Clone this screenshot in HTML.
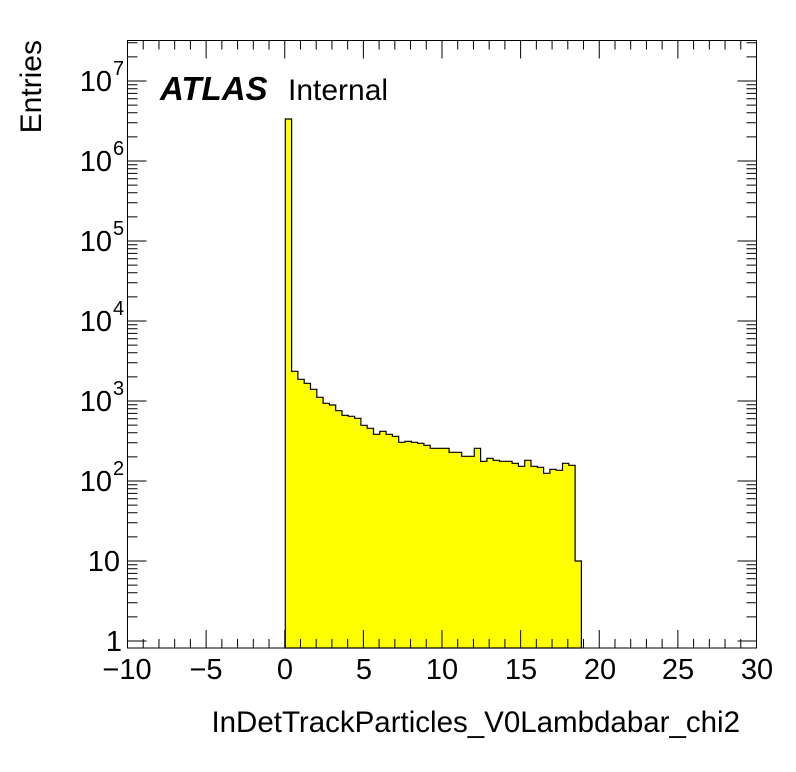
<!DOCTYPE html>
<html><head><meta charset="utf-8"><style>
html,body{margin:0;padding:0;background:#fff;}
svg{display:block;font-family:"Liberation Sans",sans-serif;}
</style></head><body>
<svg id="s" width="796" height="772" xmlns="http://www.w3.org/2000/svg">
<rect width="796" height="772" fill="#fff"/>
<g id="hist"></g>
<g id="ticks" stroke="#000" stroke-width="1" fill="none"></g>
<rect x="127.5" y="40.5" width="629" height="607.5" fill="none" stroke="#000" stroke-width="1"/>
<g font-size="29" text-anchor="middle" fill="#000">
<text x="127" y="679">−10</text>
<text x="206" y="679">−5</text>
<text x="285" y="679">0</text>
<text x="364" y="679">5</text>
<text x="442" y="679">10</text>
<text x="521" y="679">15</text>
<text x="600" y="679">20</text>
<text x="678" y="679">25</text>
<text x="757" y="679">30</text>
</g>
<g font-size="29" text-anchor="end" fill="#000">
<text x="122" y="651">1</text>
<text x="120" y="571">10</text>
<text x="112" y="491">10</text><text x="113" y="475" font-size="20" text-anchor="start">2</text>
<text x="112" y="411">10</text><text x="113" y="395" font-size="20" text-anchor="start">3</text>
<text x="112" y="331">10</text><text x="113" y="315" font-size="20" text-anchor="start">4</text>
<text x="112" y="251">10</text><text x="113" y="235" font-size="20" text-anchor="start">5</text>
<text x="112" y="171">10</text><text x="113" y="155" font-size="20" text-anchor="start">6</text>
<text x="112" y="91">10</text><text x="113" y="75" font-size="20" text-anchor="start">7</text>
</g>
<text x="740" y="732" font-size="29.5" text-anchor="end">InDetTrackParticles_V0Lambdabar_chi2</text>
<text transform="translate(41,40) rotate(-90)" font-size="30" text-anchor="end">Entries</text>
<text x="160" y="100" font-size="33" font-weight="bold" font-style="italic">ATLAS</text>
<text x="288" y="100" font-size="30">Internal</text>
</svg>
<script>
var NS="http://www.w3.org/2000/svg";
var lv=[119,371.3,379.3,383.3,389.3,397.3,403.3,405,410.7,415.3,416.3,418.3,425.3,428.3,434.3,431.3,434.3,436.3,442.3,441.3,442.3,443.3,445.3,448.3,448.3,448.3,452.3,452.3,456.3,456.3,448.3,461.3,458.3,460.3,461.3,461.3,463.3,466.3,460.3,466.3,467.3,473.3,469.3,470.3,463.3,465.3,561];
var x0=285.3,w=6.3,base=648;
var d="M"+x0+","+base;
for(var i=0;i<lv.length;i++){d+=" L"+(x0+i*w).toFixed(1)+","+lv[i]+" L"+(x0+(i+1)*w).toFixed(1)+","+lv[i];}
d+=" L"+(x0+lv.length*w).toFixed(1)+","+base+" Z";
var p=document.createElementNS(NS,"path");p.setAttribute("d",d);p.setAttribute("fill","#ffff00");p.setAttribute("stroke","#000");p.setAttribute("stroke-width","1.2");
document.getElementById("hist").appendChild(p);
var t="",L=127.5,R=756.5,T=40.5,B=648;
for(var u=-10;u<=30;u++){var x=127.5+(u+10)*15.725;var len=(u%5==0)?18:9;t+="M"+x+","+B+"v-"+len+"M"+x+","+T+"v"+len;}
for(var e=0;e<=7;e++){for(var m=1;m<=9;m++){var y=641-80*(e+Math.log10(m));if(y<T)continue;var len=(m==1)?19:10;t+="M"+L+","+y.toFixed(1)+"h"+len+"M"+R+","+y.toFixed(1)+"h-"+len;}}
var g=document.createElementNS(NS,"path");g.setAttribute("d",t);document.getElementById("ticks").appendChild(g);
</script>
</body></html>
